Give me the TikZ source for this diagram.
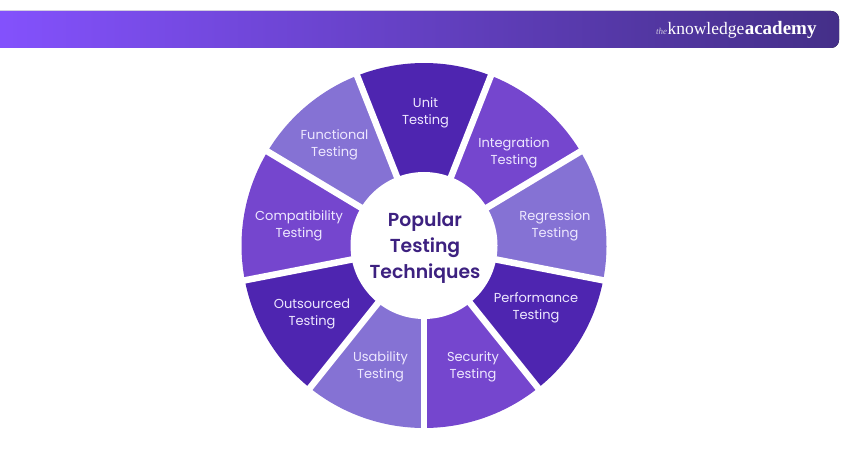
\documentclass[tikz,border=0pt]{standalone}
\usepackage{fontspec}
\setmainfont{Poppins}
\newfontfamily\titlefont{Poppins SemiBold}
\newfontfamily\logofont{Liberation Serif}
\definecolor{tkaDark}{RGB}{78,37,176}
\definecolor{tkaMid}{RGB}{117,70,206}
\definecolor{tkaLight}{RGB}{133,114,212}
\definecolor{tkaTitle}{RGB}{61,33,128}
\definecolor{tkaBarLeft}{RGB}{133,82,255}
\definecolor{tkaBarRight}{RGB}{68,47,136}
\definecolor{tkaLabel}{RGB}{238,232,255}
\begin{document}
\begin{tikzpicture}[x=1pt,y=1pt]%
  \tikzset{segment label/.style={text=tkaLabel, align=center, font=\fontsize{13}{17}\selectfont, inner sep=0pt}}
  \tikzset{logo text/.style={text=white, inner sep=0pt, anchor=base west}}
  \useasboundingbox (0,0) rectangle (850,450);

  \coordinate (centre) at (424,204.5);

  % top bar
  \fill[left color=tkaBarLeft, right color=tkaBarRight, rounded corners=8pt] (-20,402) rectangle (839,439);
  \node[logo text, text=white!75!tkaBarRight, font=\logofont\itshape\fontsize{9}{9}\selectfont] (the) at (656,415.2) {the};
  \node[logo text, font=\logofont\fontsize{17.5}{18}\selectfont] (knowledge) at (the.base east) {knowledge};
  \node[logo text, font=\logofont\bfseries\fontsize{19}{18}\selectfont] (academy) at (knowledge.base east) {academy};

  % ring
  \foreach \from/\to/\col in {31/68.5/tkaMid, -11/31/tkaLight, -51.3/-11/tkaDark, -90/-51.3/tkaMid, 231.3/270/tkaLight, 191/231.3/tkaDark, 149/191/tkaMid, 111.5/149/tkaLight, 68.5/111.5/tkaDark}{
    \fill[\col] (centre) -- ([shift={(centre)}] \from:182.5) arc[start angle=\from, end angle=\to, radius=182.5] -- cycle;
  }
  \foreach \ang in {68.5,31,-11,-51.3,-90,231.3,191,149,111.5}{
    \draw[white, line width=6.5pt] (centre) -- ([shift={(centre)}] \ang:186);
  }
  \fill[white] (centre) circle (73.5);

  \node[segment label] (unit) at (425.5,337) {Unit\\Testing};
  \node[segment label] (integration) at (514,297) {Integration\\Testing};
  \node[segment label] (regression) at (555,224) {Regression\\Testing};
  \node[segment label] (performance) at (536,142) {Performance\\Testing};
  \node[segment label] (security) at (473,83) {Security\\Testing};
  \node[segment label] (usability) at (380.5,83) {Usability\\Testing};
  \node[segment label] (outsourced) at (312,136) {Outsourced\\Testing};
  \node[segment label] (compatibility) at (299,224) {Compatibility\\Testing};
  \node[segment label] (functional) at (334.5,305) {Functional\\Testing};

  \node[text=tkaTitle, align=center, inner sep=0pt, font=\titlefont\fontsize{18.8}{26}\selectfont] (title) at (425,201.5) {Popular\\Testing\\Techniques};
\end{tikzpicture}
\end{document}
